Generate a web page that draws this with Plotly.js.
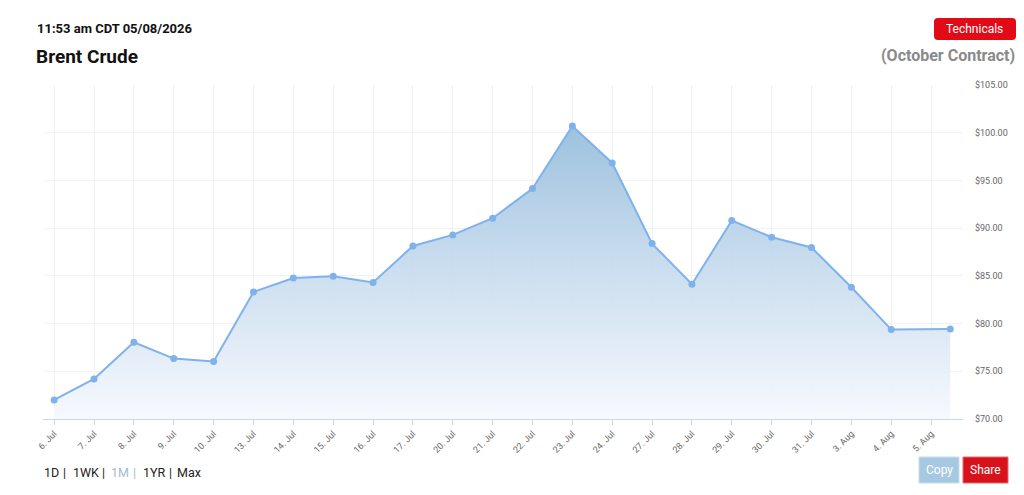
<!DOCTYPE html>
<html>
<head>
<meta charset="utf-8">
<script src="https://cdn.plot.ly/plotly-3.0.1.min.js"></script>
<style>
html,body{margin:0;padding:0;background:#fff;}
#chart{width:1024px;height:495px;}
</style>
</head>
<body>
<div id="chart"></div>
<script>
// ---- data ----
const tickLabels = ["6. Jul","7. Jul","8. Jul","9. Jul","10. Jul","13. Jul","14. Jul","15. Jul","16. Jul","17. Jul",
  "20. Jul","21. Jul","22. Jul","23. Jul","24. Jul","27. Jul","28. Jul","29. Jul","30. Jul","31. Jul",
  "3. Aug","4. Aug","5. Aug"];
// ordinal position of each session (last point is intraday 5 Aug)
const sessionIndex = [0,1,2,3,4,5,6,7,8,9,10,11,12,13,14,15,16,17,18,19,20,21,22.48];
const prices = [72.0,74.2,78.04,76.33,76.02,83.31,84.78,84.96,84.30,88.13,
  89.29,91.04,94.15,100.71,96.83,88.38,84.12,90.80,89.05,87.97,
  83.80,79.37,79.43];
const yTicks = [70,75,80,85,90,95,100,105];
const rangeButtons = ["1D","1WK","1M","1YR","Max"];
const activeRange = "1M";

// ---- geometry helpers (pixel -> paper) ----
const W = 1024, H = 495;
const M = {l:43, r:61, t:85, b:76};
const pw = W - M.l - M.r, ph = H - M.t - M.b;
const px = x => (x - M.l) / pw;
const py = y => (H - M.b - y) / ph;

function roundRect(x0, y0, x1, y1, r) {
  const X = v => px(v), Y = v => py(v);
  return `M ${X(x0+r)} ${Y(y0)} L ${X(x1-r)} ${Y(y0)} Q ${X(x1)} ${Y(y0)} ${X(x1)} ${Y(y0+r)} ` +
         `L ${X(x1)} ${Y(y1-r)} Q ${X(x1)} ${Y(y1)} ${X(x1-r)} ${Y(y1)} ` +
         `L ${X(x0+r)} ${Y(y1)} Q ${X(x0)} ${Y(y1)} ${X(x0)} ${Y(y1-r)} ` +
         `L ${X(x0)} ${Y(y0+r)} Q ${X(x0)} ${Y(y0)} ${X(x0+r)} ${Y(y0)} Z`;
}

const lineColor = '#7fb2ec';
const font = 'Roboto, Arial, sans-serif';

const trace = {
  x: sessionIndex,
  y: prices,
  type: 'scatter',
  mode: 'lines+markers',
  line: {color: lineColor, width: 2},
  marker: {color: lineColor, size: 7},
  fill: 'tozeroy',
  fillgradient: {
    type: 'vertical',
    start: Math.min(...yTicks),
    stop: Math.max(...prices),
    colorscale: [[0, 'rgba(246,249,254,0.95)'], [0.5, 'rgba(200,220,238,0.92)'], [1, 'rgba(152,190,220,0.95)']]
  },
  hoverinfo: 'skip',
  showlegend: false
};

// range selector text (layout positions)
const navLeft = [44, 73, 111, 143, 177];
const navBars = [64, 103, 134, 170];
const navAnn = [];
rangeButtons.forEach((b, i) => {
  const col = b === activeRange ? '#a3bccd' : '#222';
  navAnn.push({xref: 'paper', yref: 'paper', x: px(navLeft[i] - 2), y: py(472), xanchor: 'left', yanchor: 'middle',
    text: b, showarrow: false, font: {family: font, size: 12.5, color: col}});
  if (i < navBars.length) {
    navAnn.push({xref: 'paper', yref: 'paper', x: px(navBars[i]), y: py(472), xanchor: 'center', yanchor: 'middle',
      text: '|', showarrow: false, font: {family: font, size: 12.5, color: col}});
  }
});

const layout = {
  width: W, height: H,
  margin: M,
  paper_bgcolor: '#fff',
  plot_bgcolor: '#fff',
  font: {family: font, color: '#666'},
  xaxis: {
    range: [-0.28, 22.8],
    tickmode: 'array',
    tickvals: tickLabels.map((_, i) => i),
    ticktext: tickLabels,
    tickangle: -45,
    tickfont: {size: 9, color: '#666', family: font},
    showgrid: true,
    gridcolor: '#f0f0f4',
    gridwidth: 1,
    showline: true,
    linecolor: '#ccd6eb',
    linewidth: 1,
    ticks: 'outside',
    ticklen: 5,
    tickcolor: '#ccd6eb',
    zeroline: false,
    fixedrange: true
  },
  yaxis: {
    range: [70, 105],
    side: 'right',
    tickmode: 'array',
    tickvals: yTicks,
    ticktext: yTicks.map(v => '$' + v.toFixed(2)),
    tickfont: {size: 9, color: '#666', family: font},
    ticks: '',
    ticklabelstandoff: 11,
    showgrid: true,
    gridcolor: '#f2f2f4',
    gridwidth: 1,
    zeroline: false,
    showline: false,
    fixedrange: true
  },
  shapes: [
    {type: 'path', xref: 'paper', yref: 'paper', path: roundRect(934, 18, 1016, 40, 4),
     fillcolor: '#e30a17', line: {width: 0}},
    {type: 'rect', xref: 'paper', yref: 'paper', x0: px(919), x1: px(959), y0: py(457), y1: py(483),
     fillcolor: '#a7c8e1', line: {color: '#c9dcec', width: 1}},
    {type: 'rect', xref: 'paper', yref: 'paper', x0: px(963), x1: px(1008), y0: py(457), y1: py(483),
     fillcolor: '#d8121b', line: {color: '#e46a6f', width: 1}}
  ],
  annotations: [
    {xref: 'paper', yref: 'paper', x: px(35), y: py(28), xanchor: 'left', yanchor: 'middle',
     text: '<b>11:53 am CDT 05/08/2026</b>', showarrow: false,
     font: {family: font, size: 13, color: '#111'}},
    {xref: 'paper', yref: 'paper', x: px(34), y: py(56), xanchor: 'left', yanchor: 'middle',
     text: '<b>Brent Crude</b>', showarrow: false,
     font: {family: font, size: 19, color: '#111'}},
    {xref: 'paper', yref: 'paper', x: px(1017), y: py(55), xanchor: 'right', yanchor: 'middle',
     text: '<b>(October Contract)</b>', showarrow: false,
     font: {family: font, size: 16, color: '#8a8a8a'}},
    {xref: 'paper', yref: 'paper', x: px(975), y: py(29), xanchor: 'center', yanchor: 'middle',
     text: 'Technicals', showarrow: false,
     font: {family: font, size: 12, color: '#fff'}},
    {xref: 'paper', yref: 'paper', x: px(939), y: py(470), xanchor: 'center', yanchor: 'middle',
     text: 'Copy', showarrow: false,
     font: {family: font, size: 12, color: '#fff'}},
    {xref: 'paper', yref: 'paper', x: px(985.5), y: py(470), xanchor: 'center', yanchor: 'middle',
     text: 'Share', showarrow: false,
     font: {family: font, size: 12, color: '#fff'}}
  ].concat(navAnn)
};

Plotly.newPlot('chart', [trace], layout, {displayModeBar: false, staticPlot: true});
</script>
</body>
</html>
